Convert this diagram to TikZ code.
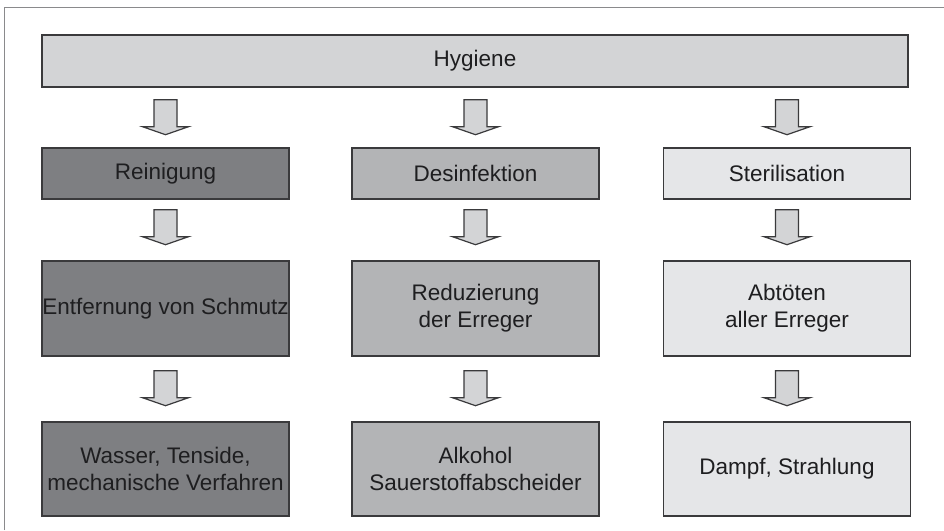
\documentclass[tikz,border=0pt]{standalone}
\usepackage{fontspec}
\setmainfont{Liberation Sans}
\usetikzlibrary{calc}
\definecolor{hygfill}{HTML}{D3D4D6}
\definecolor{darkfill}{HTML}{7E7F82}
\definecolor{midfill}{HTML}{B3B4B6}
\definecolor{lightfill}{HTML}{E5E6E8}
\definecolor{edgecol}{HTML}{3A3A3C}
\definecolor{framecol}{HTML}{8A8A8C}
\definecolor{txtcol}{HTML}{1E1E20}
\tikzset{
  boxbase/.style={draw=edgecol, line width=1.4pt, rectangle, inner sep=0pt, align=center,
    text=txtcol, font=\fontsize{22.5}{27}\selectfont},
  hygbox/.style={boxbase, fill=hygfill, minimum width=866pt, minimum height=52pt},
  colbox/.style={boxbase, minimum width=247pt},
  rowone/.style={colbox, minimum height=51pt},
  rowtwo/.style={colbox, minimum height=95pt},
  rowthree/.style={colbox, minimum height=94pt},
  darkbox/.style={fill=darkfill},
  midbox/.style={fill=midfill},
  lightbox/.style={fill=lightfill},
  blockarrow/.pic={
    \draw[draw=edgecol, line width=1.2pt, fill=hygfill, line join=miter]
      (-11.5,0) -- (-11.5,27) -- (-23,27) -- (0,35) -- (23,27) -- (11.5,27) -- (11.5,0) -- cycle;
  }
}
\begin{document}
\begin{tikzpicture}[x=1pt,y=-1pt]
\useasboundingbox (0,0) rectangle (944,530);
\fill[white] (0,0) rectangle (944,530);
\draw[framecol, line width=0.9pt] (4,530) -- (4,7) -- (944,7);

\node[hygbox] (hyg) at (475,61) {Hygiene};

\node[rowone,darkbox]  (rein) at (165.5,173.5) {Reinigung};
\node[rowone,midbox]   (desi) at (475.5,173.5) {Desinfektion};
\node[rowone,lightbox] (ster) at (787,173.5) {Sterilisation};

\node[rowtwo,darkbox]  (entf) at (165.5,308.5) {Entfernung von Schmutz};
\node[rowtwo,midbox]   (redu) at (475.5,308.5) {Reduzierung\\der Erreger};
\node[rowtwo,lightbox] (abto) at (787,308.5) {Abtöten\\aller Erreger};

\node[rowthree,darkbox]  (wass) at (165.5,469) {Wasser, Tenside,\\mechanische Verfahren};
\node[rowthree,midbox]   (alko) at (475.5,469) {Alkohol\\Sauerstoffabscheider};
\node[rowthree,lightbox] (damp) at (787,469) {Dampf, Strahlung};

\foreach \b in {rein,desi,ster}{
  \pic at ($(hyg.south -| \b.north)+(0,12)$) {blockarrow};
}
\foreach \a in {rein,desi,ster}{
  \pic at ($(\a.south)+(0,10)$) {blockarrow};
}
\foreach \a in {entf,redu,abto}{
  \pic at ($(\a.south)+(0,14)$) {blockarrow};
}
\end{tikzpicture}
\end{document}
